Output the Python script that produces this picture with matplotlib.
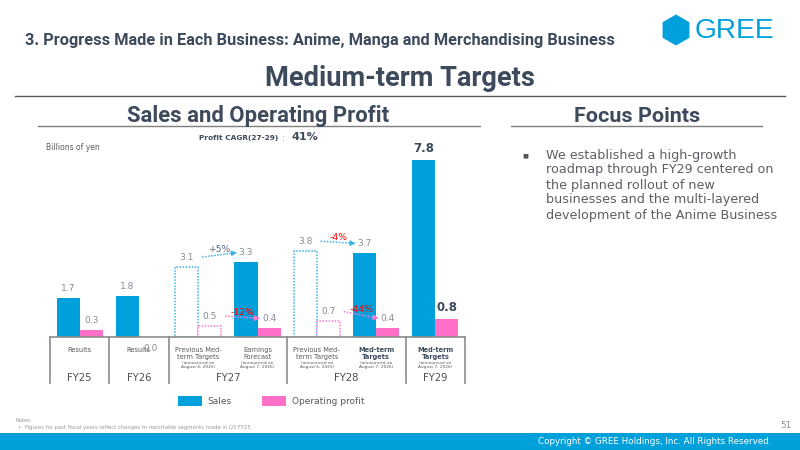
import matplotlib
matplotlib.use("Agg")
import matplotlib.pyplot as plt
from matplotlib.patches import Rectangle, RegularPolygon, Patch
from matplotlib import font_manager as fm

# ---------------- data ----------------
slot_labels = ["Results", "Results", "Previous Med-\nterm Targets", "Earnings\nForecast",
               "Previous Med-\nterm Targets", "Med-term\nTargets", "Med-term\nTargets"]
slot_notes = ["", "", "(announced on\nAugust 6, 2025)", "(announced on\nAugust 7, 2026)",
              "(announced on\nAugust 6, 2025)", "(announced on\nAugust 7, 2026)",
              "(announced on\nAugust 7, 2026)"]
slot_bold = [False, False, False, False, False, True, True]
slot_dashed = [False, False, True, False, True, False, False]
sales = [1.7, 1.8, 3.1, 3.3, 3.8, 3.7, 7.8]
profit = [0.3, 0.0, 0.5, 0.4, 0.7, 0.4, 0.8]
fiscal_years = ["FY25", "FY26", "FY27", "FY28", "FY29"]
fy_first_slot = [0, 1, 2, 4, 6]
fy_last_slot = [0, 1, 3, 5, 6]
change_from = [2, 2, 4, 4]
change_to = [3, 3, 5, 5]
change_series = ["sales", "profit", "sales", "profit"]
change_text = ["+5%", "-12%", "-4%", "-44%"]
cagr_label = "Profit CAGR(27-29)"
cagr_value = "41%"
focus_lines = ["We established a high-growth", "roadmap through FY29 centered on",
               "the planned rollout of new", "businesses and the multi-layered",
               "development of the Anime Business"]

# ---------------- style ----------------
BLUE = "#00A0DC"
PINK = "#FF6EC7"
BLUE_DOT = "#3DB2E6"
PINK_DOT = "#FF7AD0"
SLATE = "#3C4A5C"
GRAY_TXT = "#858B95"
DARK_TXT = "#595959"
RED = "#FF0000"
FOOT = "#00A0DA"


def has_font(name):
    try:
        fm.findfont(fm.FontProperties(family=name), fallback_to_default=False)
        return True
    except Exception:
        return False


if has_font("Liberation Sans Narrow"):
    TITLE_FONT = "Liberation Sans Narrow"
elif has_font("Roboto"):
    TITLE_FONT = "Roboto"
else:
    TITLE_FONT = "Liberation Sans"
plt.rcParams["font.family"] = ["DejaVu Sans"]

fig = plt.figure(figsize=(8, 4.5), dpi=100)
fig.patch.set_facecolor("white")

bg = fig.add_axes([0, 0, 1, 1], zorder=0)
bg.set_xlim(0, 800)
bg.set_ylim(450, 0)
bg.axis("off")

renderer = fig.canvas.get_renderer()


def fit(t, width_px):
    for _ in range(3):
        w = t.get_window_extent(renderer=renderer).width
        t.set_fontsize(t.get_fontsize() * width_px / w)


# header
t = bg.text(25, 41, "3. Progress Made in Each Business: Anime, Manga and Merchandising Business",
            family=TITLE_FONT, weight="bold", color=SLATE, fontsize=11, ha="left", va="center")
fit(t, 590)
bg.add_patch(RegularPolygon((676, 30), numVertices=6, radius=15.5, orientation=0,
                            facecolor=BLUE, edgecolor="none"))
t = bg.text(695, 31, "GREE", family="Liberation Sans", color=BLUE, fontsize=20,
            ha="left", va="center")
fit(t, 80)

t = bg.text(400, 79, "Medium-term Targets", family=TITLE_FONT, weight="bold", color=SLATE,
            fontsize=20, ha="center", va="center")
fit(t, 270)
bg.plot([15, 785], [96, 96], color="#595959", lw=1)

t = bg.text(258, 116, "Sales and Operating Profit", family=TITLE_FONT, weight="bold",
            color=SLATE, fontsize=15, ha="center", va="center")
fit(t, 262)
bg.plot([38, 480], [126, 126], color="#7F7F7F", lw=1)
t = bg.text(637, 116, "Focus Points", family=TITLE_FONT, weight="bold", color=SLATE,
            fontsize=15, ha="center", va="center")
fit(t, 126)
bg.plot([511, 762], [126, 126], color="#7F7F7F", lw=1)

# CAGR
bg.text(278, 138, cagr_label, weight="bold", color=SLATE, fontsize=5.3, ha="right", va="center")
bg.text(283, 138.5, ":", color=GRAY_TXT, fontsize=6, ha="center", va="center")
bg.text(291, 137.5, cagr_value, weight="bold", color=SLATE, fontsize=8, ha="left", va="center")

bg.text(46, 147, "Billions of yen", color=DARK_TXT, fontsize=5.5, ha="left", va="center")

# focus points
bg.text(525, 155.5, "\u25A0", color="#555555", fontsize=4.5, ha="center", va="center")
for k, line in enumerate(focus_lines):
    bg.text(546, 155 + k * 15, line, color="#5A5F66", fontsize=9.2, ha="left", va="center")

# footer
bg.add_patch(Rectangle((0, 433), 800, 17, facecolor=FOOT, edgecolor="none"))
bg.text(771, 441.5, "Copyright \u00a9 GREE Holdings, Inc. All Rights Reserved.", color="white",
        fontsize=6.3, ha="right", va="center")
bg.text(786, 425, "51", color="#8C8C8C", fontsize=6.3, ha="center", va="center")
bg.text(16, 421, "Notes:", color="#9A9A9A", fontsize=3.8, ha="left", va="center")
bg.text(17, 428, "\u2022", color="#9A9A9A", fontsize=3.8, ha="left", va="center")
bg.text(25, 428, "Figures for past fiscal years reflect changes to reportable segments made in Q3 FY25",
        color="#9A9A9A", fontsize=3.8, ha="left", va="center")

# ---------------- chart ----------------
UNIT = 22.7  # px per billion yen
x0_px, x1_px, base_px = 50, 465, 337
ymax = 8.5
ax = fig.add_axes([x0_px / 800, (450 - base_px) / 450, (x1_px - x0_px) / 800, ymax * UNIT / 450],
                  zorder=2)
ax.patch.set_alpha(0)
n = len(sales)
ax.set_xlim(-0.5, n - 0.5)
ax.set_ylim(0, ymax)
ax.axis("off")

w = 0.39
off = 0.195
xs = list(range(n))
for i in xs:
    if slot_dashed[i]:
        ax.bar(i - off, sales[i], w, facecolor="white", edgecolor=BLUE_DOT, linestyle=(0, (1, 1)),
               lw=1.1, zorder=3)
        ax.bar(i + off, profit[i], w, facecolor="white", edgecolor=PINK_DOT, linestyle=(0, (1, 1)),
               lw=1.1, zorder=3)
    else:
        ax.bar(i - off, sales[i], w, color=BLUE, edgecolor="none", zorder=3)
        ax.bar(i + off, profit[i], w, color=PINK, edgecolor=PINK if profit[i] == 0 else "none",
               lw=0.6, zorder=3)

LOFF = 0.42
for i in xs:
    if i == n - 1:
        ax.text(i - off, sales[i] + 0.5, f"{sales[i]:.1f}", ha="center", va="center",
                fontsize=8.5, weight="bold", color=SLATE, clip_on=False)
        ax.text(i + off, profit[i] + 0.5, f"{profit[i]:.1f}", ha="center", va="center",
                fontsize=8.5, weight="bold", color=SLATE, clip_on=False)
    else:
        ax.text(i - off, sales[i] + LOFF, f"{sales[i]:.1f}", ha="center", va="center",
                fontsize=6.5, color=GRAY_TXT, clip_on=False)
        py = profit[i] + LOFF if profit[i] > 0 else -0.52
        ax.text(i + off, py, f"{profit[i]:.1f}", ha="center", va="center",
                fontsize=6.5, color=GRAY_TXT, clip_on=False, zorder=5)

# change arrows
for f, tgt, s, txt in zip(change_from, change_to, change_series, change_text):
    vals = sales if s == "sales" else profit
    sgn = -1 if s == "sales" else 1
    col = BLUE_DOT if s == "sales" else PINK_DOT
    xa = f + sgn * off + 0.26
    xb = tgt + sgn * off - 0.15
    ya = vals[f] + LOFF
    yb = vals[tgt] + LOFF
    ax.plot([xa, xb - 0.06], [ya, yb - (yb - ya) * 0.06 / (xb - xa)], color=col,
            linestyle=(0, (1, 1)), lw=1.1, clip_on=False, zorder=4)
    ax.annotate("", xy=(xb, yb), xytext=(xb - 0.07, yb - (yb - ya) * 0.07 / (xb - xa)),
                arrowprops=dict(arrowstyle="-|>", color=col, lw=0.8, mutation_scale=8,
                                shrinkA=0, shrinkB=0), annotation_clip=False, zorder=4)
    tc = "#5A6B80" if txt.startswith("+") else RED
    ax.text((xa + xb) / 2, (ya + yb) / 2 + 0.22, txt, ha="center", va="center", fontsize=6.7,
            color=tc, clip_on=False, zorder=6)

# table under the bars
tb = -46 / UNIT
ax.plot([-0.5, n - 0.5], [0, 0], color="#8C8C8C", lw=1.2, clip_on=False, zorder=4)
bounds = [-0.5] + [fy_last_slot[k] + 0.5 for k in range(len(fiscal_years))]
for b in bounds:
    ax.plot([b, b], [0, tb], color="#8C8C8C", lw=1.2, clip_on=False)
for i in xs:
    ax.text(i, -10 / UNIT, slot_labels[i], ha="center", va="top", fontsize=4.8,
            weight="bold" if slot_bold[i] else "normal",
            color=SLATE if slot_bold[i] else DARK_TXT, linespacing=1.15, clip_on=False)
    if slot_notes[i]:
        ax.text(i, -23.5 / UNIT, slot_notes[i], ha="center", va="top", fontsize=3.1,
                color=DARK_TXT, linespacing=1.1, clip_on=False)
for k, fy in enumerate(fiscal_years):
    cx = (fy_first_slot[k] + fy_last_slot[k]) / 2
    ax.text(cx, -41 / UNIT, fy, ha="center", va="center", fontsize=7.2, color="#4A4F57",
            clip_on=False)

handles = [Patch(facecolor=BLUE, edgecolor="none", label="Sales"),
           Patch(facecolor=PINK, edgecolor="none", label="Operating profit")]
fig.legend(handles=handles, loc="center", bbox_to_anchor=(271 / 800, 1 - 401 / 450), ncol=2,
           frameon=False, fontsize=6.5, handlelength=2.7, handleheight=1.3, handletextpad=0.6,
           columnspacing=3.3, labelcolor="#595959")

fig.savefig("out.png", dpi=100)
